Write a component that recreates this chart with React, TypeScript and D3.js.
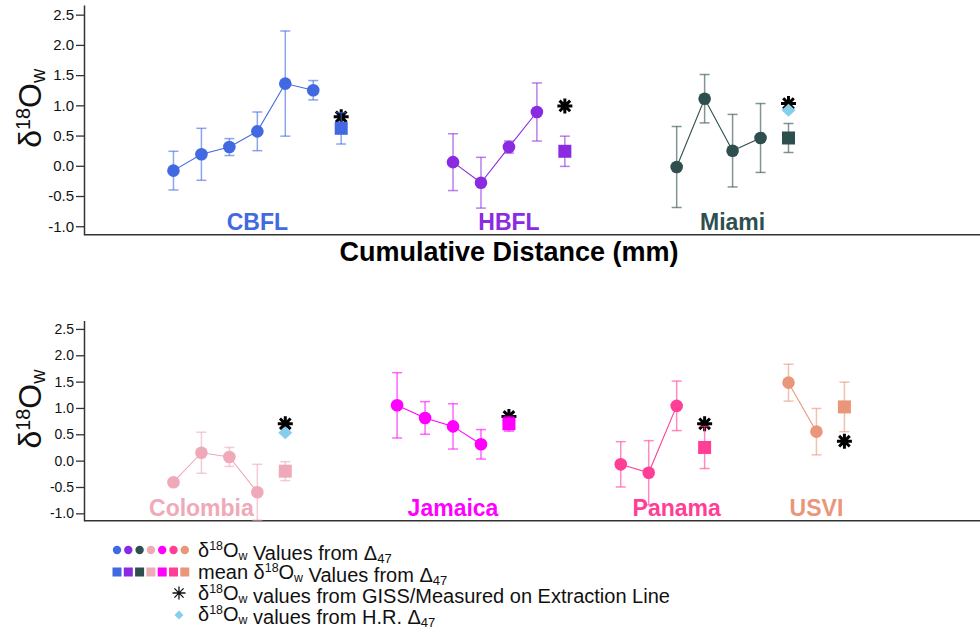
import React, { useEffect, useRef } from 'react';
import * as d3 from 'd3';

const W = 980;
const H = 632;
const FONT = "'Liberation Sans', Arial, sans-serif";

// positions are sample order along the cumulative distance axis
const cbflPos = [0, 1, 2, 3, 4, 5];
const cbflVals = [-0.08, 0.19, 0.31, 0.57, 1.36, 1.25];
const cbflErr = [0.32, 0.43, 0.14, 0.32, 0.87, 0.16];

const hbflPos = [10, 11, 12, 13];
const hbflVals = [0.06, -0.28, 0.31, 0.89];
const hbflErr = [0.47, 0.42, 0.1, 0.48];

const miamiPos = [18, 19, 20, 21];
const miamiVals = [-0.02, 1.11, 0.25, 0.46];
const miamiErr = [0.67, 0.4, 0.6, 0.57];

const colombiaPos = [0, 1, 2, 3];
const colombiaVals = [-0.41, 0.15, 0.07, -0.6];
const colombiaErr = [0.05, 0.39, 0.18, 0.53];

const jamaicaPos = [8, 9, 10, 11];
const jamaicaVals = [1.05, 0.81, 0.65, 0.31];
const jamaicaErr = [0.62, 0.31, 0.43, 0.28];

const panamaPos = [16, 17, 18];
const panamaVals = [-0.07, -0.23, 1.04];
const panamaErr = [0.43, 0.61, 0.47];

const usviPos = [22, 23];
const usviVals = [1.48, 0.55];
const usviErr = [0.35, 0.44];

// mean values (square), GISS/measured (asterisk), H.R. (diamond)
const siteNames = ['CBFL', 'HBFL', 'Miami', 'Colombia', 'Jamaica', 'Panama', 'USVI'];
const siteColors = ['#4169E1', '#8A2BE2', '#2F4F4F', '#EFA9B8', '#FF00FF', '#FF3E96', '#E9967A'];
const meanPos = [6, 14, 22, 4, 12, 19, 24];
const meanVals = [0.62, 0.24, 0.46, -0.2, 0.7, 0.25, 1.02];
const meanErr = [0.26, 0.25, 0.24, 0.18, 0.14, 0.4, 0.47];
const gissVals = [0.81, 0.99, 1.03, 0.7, 0.84, 0.7, 0.37];
const hrVals = [null, null, 0.92, 0.53, null, null, null];
const labelPos = [3, 12, 20, 1, 10, 18, 23];

const yTicks = [-1.0, -0.5, 0.0, 0.5, 1.0, 1.5, 2.0, 2.5];

const sites = siteNames.map((name, i) => ({
  name,
  color: siteColors[i],
  panel: i < 3 ? 0 : 1,
  pos: [cbflPos, hbflPos, miamiPos, colombiaPos, jamaicaPos, panamaPos, usviPos][i],
  vals: [cbflVals, hbflVals, miamiVals, colombiaVals, jamaicaVals, panamaVals, usviVals][i],
  err: [cbflErr, hbflErr, miamiErr, colombiaErr, jamaicaErr, panamaErr, usviErr][i],
  meanPos: meanPos[i],
  mean: meanVals[i],
  meanErr: meanErr[i],
  giss: gissVals[i],
  hr: hrVals[i],
  labelPos: labelPos[i],
}));

const x = d3.scaleLinear().domain([-3.2, 28.85]).range([84, 980]);
const yTop = d3.scaleLinear().domain([-1.14, 2.66]).range([234.7, 5]);
const yBot = d3.scaleLinear().domain([-1.14, 2.66]).range([520.7, 320.5]);
const panels = [yTop, yBot];

const asterisk = (cx: number, cy: number, r: number) => {
  const d = r * Math.SQRT1_2;
  return `M${cx},${cy - r}V${cy + r}M${cx - r},${cy}H${cx + r}` +
    `M${cx - d},${cy - d}L${cx + d},${cy + d}M${cx - d},${cy + d}L${cx + d},${cy - d}`;
};

const diamond = (cx: number, cy: number, rx: number, ry: number) =>
  `M${cx},${cy - ry}L${cx + rx},${cy}L${cx},${cy + ry}L${cx - rx},${cy}Z`;

const ErrBar = ({ cx, y, v, e, color }: any) => {
  const top = y(v + e);
  const bot = y(v - e);
  return (
    <g stroke={color} strokeOpacity={0.6} strokeWidth={1.5}>
      <line x1={cx} x2={cx} y1={top} y2={bot} />
      <line x1={cx - 5} x2={cx + 5} y1={top} y2={top} />
      <line x1={cx - 5} x2={cx + 5} y1={bot} y2={bot} />
    </g>
  );
};

const Delta = ({ size }: { size: number }) => (
  <>
    <tspan>δ</tspan>
    <tspan fontSize={size * 0.62} dy={-size * 0.34}>18</tspan>
    <tspan dy={size * 0.34}>O</tspan>
    <tspan fontSize={size * 0.62} dy={size * 0.14}>w</tspan>
    <tspan dy={-size * 0.14}>{''}</tspan>
  </>
);

const YAxis = ({ y }: { y: d3.ScaleLinear<number, number> }) => {
  const ref = useRef<SVGGElement>(null);
  useEffect(() => {
    if (!ref.current) return;
    const g = d3.select(ref.current);
    g.call(
      d3.axisLeft(y)
        .tickValues(yTicks)
        .tickFormat((d) => (+d).toFixed(1))
        .tickSize(8)
        .tickSizeOuter(0)
        .tickPadding(2)
    );
    g.attr('font-family', FONT).attr('font-size', y === yTop ? 15 : 14);
    g.selectAll('text').attr('fill', '#111');
    g.selectAll('line').attr('stroke', '#333').attr('stroke-width', 1.3);
    g.select('.domain').attr('stroke', '#333').attr('stroke-width', 1.5);
  }, [y]);
  return <g ref={ref} transform={`translate(${x.range()[0]},0)`} />;
};

export default function App() {
  return (
    <div style={{ position: 'absolute', left: 0, top: 0 }}>
      <svg width={W} height={H} style={{ display: 'block', background: '#fff' }} fontFamily={FONT}>
        {panels.map((y, p) => {
          const mid = (y.range()[0] + y.range()[1]) / 2;
          return (
            <g key={p}>
              <YAxis y={y} />
              <line x1={x.range()[0]} x2={x.range()[1]} y1={y.range()[0]} y2={y.range()[0]}
                stroke="#333" strokeWidth={1.5} />
              <text transform={`translate(41,${mid + 28}) rotate(-90)`} fontSize={32} fill="#111">
                <Delta size={32} />
              </text>
            </g>
          );
        })}

        <text x={509} y={261} textAnchor="middle" fontSize={27} fontWeight="bold" fill="#000">
          Cumulative Distance (mm)
        </text>

        {sites.map((s) => {
          const y = panels[s.panel];
          const line = d3.line<number>().x((_, i) => x(s.pos[i])).y((d) => y(d));
          const mx = x(s.meanPos);
          return (
            <g key={s.name}>
              <text x={x(s.labelPos)} y={y.range()[0] - 5} textAnchor="middle" fontSize={23}
                fontWeight="bold" fill={s.color}>{s.name}</text>
              <path d={line(s.vals) || ''} fill="none" stroke={s.color} strokeWidth={1.1} />
              {s.vals.map((v, i) => (
                <ErrBar key={i} cx={x(s.pos[i])} y={y} v={v} e={s.err[i]} color={s.color} />
              ))}
              {s.vals.map((v, i) => (
                <circle key={i} cx={x(s.pos[i])} cy={y(v)} r={6.3} fill={s.color} />
              ))}
              <path d={asterisk(mx, y(s.giss), 7.5)} stroke="#000" strokeWidth={3} fill="none" />
              <ErrBar cx={mx} y={y} v={s.mean} e={s.meanErr} color={s.color} />
              <rect x={mx - 6.5} y={y(s.mean) - 6.5} width={13} height={13} fill={s.color} />
              {s.hr !== null && (
                <path d={diamond(mx, y(s.hr), 7, 6.5)} fill="#87CEEB" />
              )}
            </g>
          );
        })}

        {/* legend */}
        <g fontSize={20} fill="#111">
          {siteColors.map((c, i) => (
            <circle key={'c' + i} cx={117 + i * 11.3} cy={550} r={4.2} fill={c} />
          ))}
          {siteColors.map((c, i) => (
            <rect key={'r' + i} x={117 + i * 11.3 - 4.5} y={567.5} width={9} height={9} fill={c} />
          ))}
          <path d={asterisk(179, 593, 6.5)} stroke="#111" strokeWidth={1.3} fill="none" />
          <path d={diamond(179, 615, 4.5, 4.5)} fill="#87CEEB" />

          <text x={198} y={557}>
            <Delta size={20} />
            <tspan> Values from Δ</tspan>
            <tspan fontSize={13} dy={3}>47</tspan>
          </text>
          <text x={198} y={579}>
            <tspan>mean </tspan>
            <Delta size={20} />
            <tspan> Values from Δ</tspan>
            <tspan fontSize={13} dy={3}>47</tspan>
          </text>
          <text x={198} y={600}>
            <Delta size={20} />
            <tspan> values from GISS/Measured on Extraction Line</tspan>
          </text>
          <text x={198} y={621}>
            <Delta size={20} />
            <tspan> values from H.R. Δ</tspan>
            <tspan fontSize={13} dy={3}>47</tspan>
          </text>
        </g>
      </svg>
    </div>
  );
}
